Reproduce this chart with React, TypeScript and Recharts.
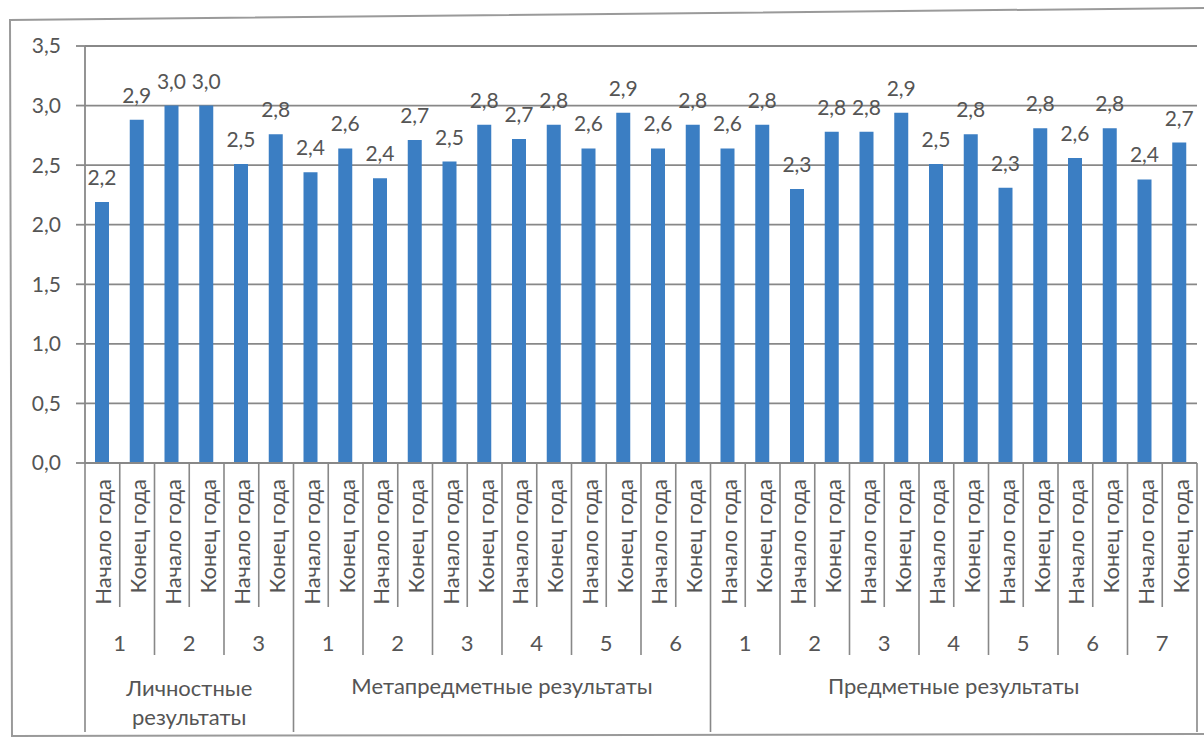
import { BarChart, Bar, XAxis, YAxis, CartesianGrid, LabelList } from "recharts";

const categories = ["Личностные результаты", "Метапредметные результаты", "Предметные результаты"];
const groupCounts = [3, 6, 7];
const periods = ["Начало года", "Конец года"];
// one entry per numbered group, in order: Личностные 1-3, Метапредметные 1-6, Предметные 1-7
const startValues = [2.19, 3.0, 2.51, 2.44, 2.39, 2.53, 2.72, 2.64, 2.64, 2.64, 2.3, 2.78, 2.51, 2.31, 2.56, 2.38];
const endValues = [2.88, 3.0, 2.76, 2.64, 2.71, 2.84, 2.84, 2.94, 2.84, 2.84, 2.78, 2.94, 2.76, 2.81, 2.81, 2.69];
const yTicks = [0, 0.5, 1, 1.5, 2, 2.5, 3, 3.5];

const W = 1204;
const H = 739;
const PLOT_LEFT = 85;
const PLOT_RIGHT = 1197;
const PLOT_TOP = 46;
const PLOT_BOTTOM = 463;
const Y_AXIS_W = 60;
const BAND = (PLOT_RIGHT - PLOT_LEFT) / 32;

const TEXT = "#555555";
const LINE = "#888888";
const BAR = "#3b7ec3";
const FONT = "Lato, 'Open Sans', sans-serif";

type Row = {
  key: string;
  period: number;
  group: number;
  cat: number;
  firstInCat: boolean;
  lastInCat: boolean;
  value: number;
};

const rows: Row[] = [];
let k = 0;
categories.forEach((_, ci) => {
  for (let g = 1; g <= groupCounts[ci]; g++) {
    [startValues[k], endValues[k]].forEach((v, p) => {
      rows.push({
        key: `${ci}-${g}-${p}`,
        period: p,
        group: g,
        cat: ci,
        firstInCat: g === 1 && p === 0,
        lastInCat: g === groupCounts[ci] && p === 1,
        value: v,
      });
    });
    k++;
  }
});

const fmt = (v: number) => v.toFixed(1).replace(".", ",");

function XTick(props: any) {
  const { x, payload } = props;
  const i = props.index ?? payload.index;
  const row = rows[i];
  if (!row) return null;
  const half = payload.offset > 0 ? payload.offset : BAND / 2;
  const right = x + half;
  const sepEnd = row.lastInCat ? 732 : row.period === 1 ? 655 : 607;

  let catLabel = null;
  if (row.firstInCat) {
    const span = groupCounts[row.cat] * 2 * half * 2;
    const cx = x - half + span / 2;
    const name = categories[row.cat];
    const lines = groupCounts[row.cat] < 4 ? name.split(" ") : [name];
    const ys = lines.length > 1 ? [687, 716] : [685];
    catLabel = lines.map((t, li) => (
      <text key={li} x={cx} y={ys[li]} textAnchor="middle" dominantBaseline="central" fontSize={22} fill={TEXT}>
        {t}
      </text>
    ));
  }

  return (
    <g fontFamily={FONT}>
      {i === 0 && <line x1={x - half} y1={PLOT_BOTTOM} x2={x - half} y2={732} stroke={LINE} strokeWidth={1.6} />}
      <line x1={right} y1={PLOT_BOTTOM} x2={right} y2={sepEnd} stroke={LINE} strokeWidth={1.6} />
      <text transform={`translate(${x + 9},479) rotate(-90)`} textAnchor="end" fontSize={22} fill={TEXT}>
        {periods[row.period]}
      </text>
      {row.period === 1 && (
        <text x={x - half} y={642} textAnchor="middle" dominantBaseline="central" fontSize={22} fill={TEXT}>
          {row.group}
        </text>
      )}
      {catLabel}
    </g>
  );
}

export default function App() {
  return (
    <div style={{ position: "absolute", left: 0, top: 0, width: W, height: H, background: "#fff", overflow: "hidden" }}>
      <svg width={W} height={H} style={{ position: "absolute", left: 0, top: 0 }}>
        <polyline points="1204,8 10,20 12,736 1204,734" fill="none" stroke="#9a9a9a" strokeWidth={2} />
      </svg>
      <div style={{ position: "absolute", left: 0, top: 0 }}>
        <BarChart
          width={W}
          height={H}
          data={rows}
          barSize={14}
          margin={{ top: PLOT_TOP, right: W - PLOT_RIGHT, left: PLOT_LEFT - Y_AXIS_W, bottom: 0 }}
        >
          <CartesianGrid vertical={false} stroke={LINE} strokeWidth={1.8} />
          <XAxis
            dataKey="key"
            interval={0}
            height={H - PLOT_BOTTOM}
            tickLine={false}
            axisLine={{ stroke: LINE, strokeWidth: 1.8 }}
            tick={(p: any) => <XTick {...p} />}
          />
          <YAxis
            width={Y_AXIS_W}
            domain={[0, 3.5]}
            ticks={yTicks}
            tickFormatter={fmt}
            tickSize={9}
            tickMargin={15}
            axisLine={{ stroke: LINE, strokeWidth: 1.8 }}
            tickLine={{ stroke: LINE, strokeWidth: 1.8 }}
            tick={{ fontSize: 21, fill: TEXT, fontFamily: FONT }}
          />
          <Bar dataKey="value" fill={BAR} isAnimationActive={false}>
            <LabelList
              dataKey="value"
              position="top"
              offset={17}
              formatter={(v: any) => fmt(Number(v))}
              fill={TEXT}
              fontSize={21}
              fontFamily={FONT}
            />
          </Bar>
        </BarChart>
      </div>
    </div>
  );
}
